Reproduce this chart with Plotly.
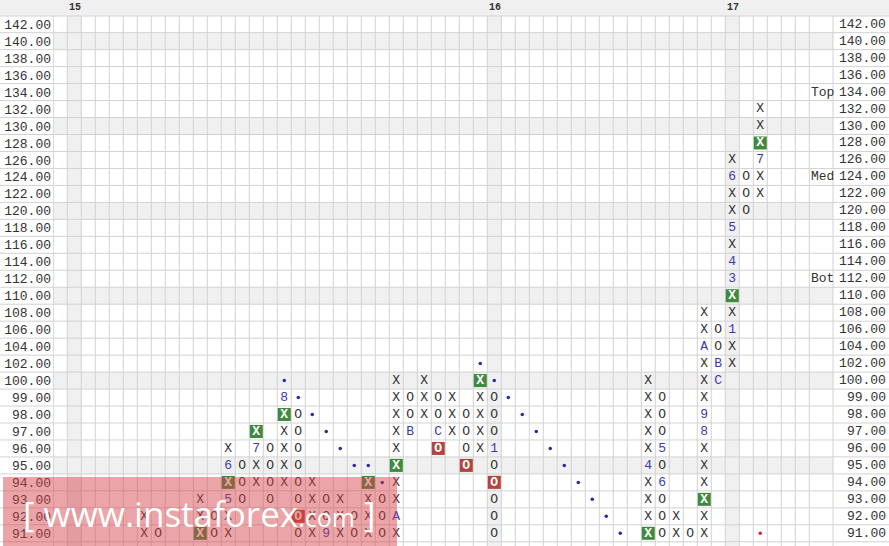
import plotly.graph_objects as go

# ---------------- data ----------------
price_levels = [91, 92, 93, 94, 95, 96, 97, 98, 99, 100, 102, 104, 106, 108, 110,
                112, 114, 116, 118, 120, 122, 124, 126, 128, 130, 132, 134, 136,
                138, 140, 142]
price_labels = ["%.2f" % p for p in price_levels]

x_col = [6, 6,
         10, 10,
         12, 12, 12,
         14, 14,
         16, 16, 16, 16,
         18, 18, 18, 18,
         20, 20, 20,
         22, 22, 22,
         24, 24, 24, 24, 24, 24, 24, 24,
         26, 26, 26,
         28, 28, 28,
         30, 30, 30, 30,
         42, 42, 42, 42, 42, 42, 42, 42,
         44, 44,
         46, 46, 46, 46, 46, 46, 46, 46, 46, 46,
         48, 48, 48, 48, 48, 48, 48,
         50, 50, 50, 50]
x_price = [91, 92,
           92, 93,
           91, 92, 96,
           94, 95,
           94, 95, 96, 97,
           91, 92, 93, 94,
           91, 92, 93,
           91, 92, 93,
           91, 93, 94, 96, 97, 98, 99, 100,
           98, 99, 100,
           97, 98, 99,
           96, 97, 98, 99,
           92, 93, 94, 96, 97, 98, 99, 100,
           91, 92,
           91, 92, 94, 95, 96, 99, 100, 102, 106, 108,
           102, 104, 108, 116, 120, 122, 126,
           122, 124, 130, 132]

o_col = [7,
         11, 11,
         13, 13, 13,
         15, 15, 15, 15,
         17, 17, 17, 17, 17, 17, 17,
         19, 19,
         21, 21,
         23, 23, 23,
         25, 25,
         27, 27,
         29, 29, 29,
         31, 31, 31, 31, 31, 31, 31,
         43, 43, 43, 43, 43, 43, 43,
         45,
         47, 47,
         49, 49, 49]
o_price = [91,
           91, 92,
           93, 94, 95,
           93, 94, 95, 96,
           91, 93, 94, 95, 96, 97, 98,
           92, 93,
           91, 92,
           91, 92, 93,
           98, 99,
           98, 99,
           96, 97, 98,
           91, 92, 93, 95, 97, 98, 99,
           91, 92, 93, 95, 97, 98, 99,
           91,
           104, 106,
           120, 122, 124]

month_col = [12, 12, 14, 16, 19, 24, 25, 27, 31, 42, 43, 43, 46, 46, 46, 47, 47,
             48, 48, 48, 48, 48, 50]
month_price = [93, 95, 96, 99, 91, 92, 97, 97, 96, 95, 96, 94, 97, 98, 104, 102, 100,
               106, 112, 114, 118, 124, 126]
month_label = ["5", "6", "7", "8", "9", "A", "B", "C", "1", "4", "5", "6", "8", "9",
               "A", "B", "C", "1", "3", "4", "5", "6", "7"]

buy_col = [10, 12, 14, 16, 22, 24, 30, 42, 46, 48, 50]
buy_price = [91, 94, 97, 98, 94, 95, 100, 91, 93, 110, 128]

sell_col = [17, 27, 29, 31]
sell_price = [92, 96, 95, 94]

trend_col = [16, 17, 18, 19, 20, 21, 22, 23, 30, 31, 32, 33, 34, 35, 36, 37, 38, 39, 40]
trend_price = [100, 99, 98, 97, 96, 95, 95, 94, 102, 100, 99, 98, 97, 96, 95, 94, 93, 92, 91]

last_col = [50]
last_price = [91]

header_cols = [1, 31, 48]
header_labels = ["15", "16", "17"]

shaded_prices = [140, 130, 120, 110, 100, 95]

level_names = ["Top", "Med", "Bot"]
level_prices = [134, 124, 112]

n_columns = 54

# ---------------- styling ----------------
W, H = 889, 546
ML, MR, MT, MB = 53, 56, 16, 0
PW, PH = W - ML - MR, H - MT - MB
CW, RH = 14.0, 16.97
X0 = -0.52
XR = [X0, X0 + PW / CW]
Y1 = 30 + 8.2 / RH
YR = [Y1 - PH / RH, Y1]

MONO = "Liberation Mono"
INK = "#333333"
BLUE = "#3a3ab0"
GREEN = "#3f8a3f"
RED = "#b5453c"
GRID = "#d2d2d2"
SHADE = "#f0f0f0"


def k(p):
    return price_levels.index(p)


def px_to_paper_x(px):
    return (px - ML) / PW


fig = go.Figure()

# boxes
fig.add_trace(go.Scatter(x=buy_col, y=[k(p) for p in buy_price], mode="markers",
                         marker=dict(symbol="square", size=13, color=GREEN, line=dict(width=0)),
                         hoverinfo="skip"))
fig.add_trace(go.Scatter(x=sell_col, y=[k(p) for p in sell_price], mode="markers",
                         marker=dict(symbol="square", size=13, color=RED, line=dict(width=0)),
                         hoverinfo="skip"))
# X and O
fig.add_trace(go.Scatter(x=x_col, y=[k(p) for p in x_price], mode="text",
                         text=["X"] * len(x_col), textposition="middle center",
                         textfont=dict(family=MONO, size=13, color=INK), hoverinfo="skip"))
fig.add_trace(go.Scatter(x=o_col, y=[k(p) for p in o_price], mode="text",
                         text=["O"] * len(o_col), textposition="middle center",
                         textfont=dict(family=MONO, size=13, color=INK), hoverinfo="skip"))
fig.add_trace(go.Scatter(x=month_col, y=[k(p) for p in month_price], mode="text",
                         text=month_label, textposition="middle center",
                         textfont=dict(family=MONO, size=13, color=BLUE), hoverinfo="skip"))
fig.add_trace(go.Scatter(x=buy_col, y=[k(p) for p in buy_price], mode="text",
                         text=["<b>X</b>"] * len(buy_col), textposition="middle center",
                         textfont=dict(family=MONO, size=13, color="white"), hoverinfo="skip"))
fig.add_trace(go.Scatter(x=sell_col, y=[k(p) for p in sell_price], mode="text",
                         text=["<b>O</b>"] * len(sell_col), textposition="middle center",
                         textfont=dict(family=MONO, size=13, color="white"), hoverinfo="skip"))
# trend dots
fig.add_trace(go.Scatter(x=trend_col, y=[k(p) for p in trend_price], mode="markers",
                         marker=dict(symbol="circle", size=3.5, color="#2a2aa8", line=dict(width=0)),
                         hoverinfo="skip"))
fig.add_trace(go.Scatter(x=last_col, y=[k(p) for p in last_price], mode="markers",
                         marker=dict(symbol="circle", size=3.5, color="#d02828", line=dict(width=0)),
                         hoverinfo="skip"))

shapes = []
full_x0 = -ML / PW
full_x1 = 1 + MR / PW
# header strip
shapes.append(dict(type="rect", xref="paper", yref="paper", x0=full_x0, x1=full_x1,
                   y0=1, y1=1 + MT / PH, fillcolor=SHADE, line=dict(width=0), layer="below"))
# shaded rows
for p in shaded_prices:
    shapes.append(dict(type="rect", xref="paper", yref="y", x0=0, x1=1,
                       y0=k(p) - 0.5, y1=k(p) + 0.5, fillcolor=SHADE, line=dict(width=0),
                       layer="below"))
# shaded columns
for c in header_cols:
    shapes.append(dict(type="rect", xref="x", yref="paper", x0=c - 0.5, x1=c + 0.5,
                       y0=0, y1=1, fillcolor=SHADE, line=dict(width=0), layer="below"))
# grid
for kk in range(-1, len(price_levels) - 1):
    shapes.append(dict(type="line", xref="paper", yref="y", x0=full_x0, x1=full_x1,
                       y0=kk + 0.5, y1=kk + 0.5, line=dict(color=GRID, width=1), layer="below"))
shapes.append(dict(type="line", xref="paper", yref="paper", x0=full_x0, x1=full_x1,
                   y0=1, y1=1, line=dict(color=GRID, width=1), layer="below"))
for c in range(n_columns + 1):
    shapes.append(dict(type="line", xref="x", yref="paper", x0=c - 0.5, x1=c - 0.5,
                       y0=0, y1=1, line=dict(color=GRID, width=1), layer="below"))
shapes.append(dict(type="line", xref="paper", yref="paper", x0=1, x1=1,
                   y0=0, y1=1, line=dict(color=GRID, width=1), layer="below"))
# watermark band
shapes.append(dict(type="rect", xref="paper", yref="paper",
                   x0=px_to_paper_x(3), x1=px_to_paper_x(397), y0=0, y1=(H - 477) / PH,
                   fillcolor="rgba(214,64,72,0.48)", line=dict(width=0), layer="above"))

annotations = []
for c, lab in zip(header_cols, header_labels):
    annotations.append(dict(x=c - 0.5, xref="x", y=1 + (MT - 7.5) / PH, yref="paper",
                            text="<b>%s</b>" % lab, showarrow=False, xanchor="left",
                            yanchor="middle", font=dict(family=MONO, size=10, color=INK)))
for p, lab in zip(price_levels, price_labels):
    annotations.append(dict(x=px_to_paper_x(888), xref="paper", y=k(p), yref="y",
                            text=lab, showarrow=False, xanchor="right", yanchor="middle",
                            font=dict(family=MONO, size=13, color=INK)))
for name, p in zip(level_names, level_prices):
    annotations.append(dict(x=px_to_paper_x(809), xref="paper", y=k(p), yref="y",
                            text=name, showarrow=False, xanchor="left", yanchor="middle",
                            font=dict(family=MONO, size=13, color=INK)))
annotations.append(dict(x=px_to_paper_x(199), xref="paper", y=(H - 513) / PH, yref="paper",
                        text="[ www.instaforex<span style='font-size:25px'>.com</span> ]",
                        showarrow=False, xanchor="center", yanchor="middle",
                        font=dict(family="Open Sans", size=35, color="white")))

fig.update_layout(
    width=W, height=H,
    margin=dict(l=ML, r=MR, t=MT, b=MB, pad=0),
    plot_bgcolor="white", paper_bgcolor="white",
    showlegend=False,
    shapes=shapes, annotations=annotations,
    xaxis=dict(range=XR, showgrid=False, zeroline=False, showticklabels=False,
               showline=False, ticks="", fixedrange=True),
    yaxis=dict(range=YR, showgrid=False, zeroline=False, showline=False,
               tickmode="array", tickvals=list(range(len(price_levels))),
               ticktext=price_labels, ticks="", ticklabelstandoff=1,
               tickfont=dict(family=MONO, size=13, color=INK), fixedrange=True),
)

fig.write_html("out.html",
               config={"displayModeBar": False},
               post_script="document.body.style.margin='0';document.body.style.padding='0';"
                           "document.body.style.overflow='hidden';")
